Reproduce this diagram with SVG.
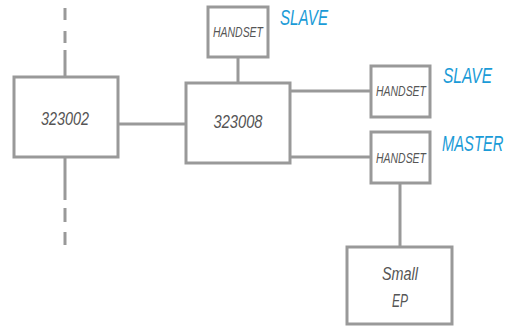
<svg xmlns="http://www.w3.org/2000/svg" width="514" height="327" viewBox="0 0 514 327">
<style>
.box{fill:#fff;stroke:#999;stroke-width:3}
.ln{stroke:#999;stroke-width:3;fill:none}
.dash{stroke:#999;stroke-width:3;fill:none}
.t{font-family:"Liberation Sans",Arial,sans-serif;font-style:italic;fill:#555;text-anchor:middle}
.lbl{font-family:"Liberation Sans",Arial,sans-serif;font-style:italic;fill:#1a9bd7;font-size:22px}
</style>
<rect width="514" height="327" fill="#fff"/>
<g id="connectors">
<line class="dash" x1="65" y1="8" x2="65" y2="20"/>
<line class="dash" x1="65" y1="31" x2="65" y2="43"/>
<line class="dash" x1="65" y1="50" x2="65" y2="77"/>
<line class="dash" x1="65" y1="157" x2="65" y2="200"/>
<line class="dash" x1="65" y1="208" x2="65" y2="222"/>
<line class="dash" x1="65" y1="232" x2="65" y2="245"/>
<line class="ln" x1="118" y1="124" x2="186" y2="124"/>
<line class="ln" x1="238" y1="57" x2="238" y2="83"/>
<line class="ln" x1="290" y1="91" x2="371" y2="91"/>
<line class="ln" x1="290" y1="157" x2="371" y2="157"/>
<line class="ln" x1="400" y1="183" x2="400" y2="247"/>
</g>
<g id="n323002">
<rect class="box" x="14" y="77" width="104" height="80"/>
<text class="t" x="65" y="125" font-size="18" textLength="48" lengthAdjust="spacingAndGlyphs">323002</text>
</g>
<g id="n323008">
<rect class="box" x="186" y="83" width="104" height="80"/>
<text class="t" x="238" y="128" font-size="18" textLength="49" lengthAdjust="spacingAndGlyphs">323008</text>
</g>
<g id="handset1">
<rect class="box" x="208" y="7" width="60" height="50"/>
<text class="t" x="238" y="37" font-size="15" textLength="50" lengthAdjust="spacingAndGlyphs">HANDSET</text>
</g>
<g id="handset2">
<rect class="box" x="371" y="66" width="59" height="51"/>
<text class="t" x="401" y="96" font-size="15" textLength="50" lengthAdjust="spacingAndGlyphs">HANDSET</text>
</g>
<g id="handset3">
<rect class="box" x="371" y="132" width="59" height="51"/>
<text class="t" x="401" y="163" font-size="15" textLength="50" lengthAdjust="spacingAndGlyphs">HANDSET</text>
</g>
<g id="smallEP">
<rect class="box" x="347" y="247" width="105" height="77"/>
<text class="t" x="400" y="280" font-size="18" textLength="36" lengthAdjust="spacingAndGlyphs">Small</text>
<text class="t" x="400" y="307" font-size="18" textLength="16" lengthAdjust="spacingAndGlyphs">EP</text>
</g>
<g id="labels">
<text class="lbl" x="280" y="25" textLength="48" lengthAdjust="spacingAndGlyphs">SLAVE</text>
<text class="lbl" x="443" y="83" textLength="49" lengthAdjust="spacingAndGlyphs">SLAVE</text>
<text class="lbl" transform="matrix(0.67 0 0 1 442 151)" x="0" y="0">MASTER</text>
</g>
</svg>
